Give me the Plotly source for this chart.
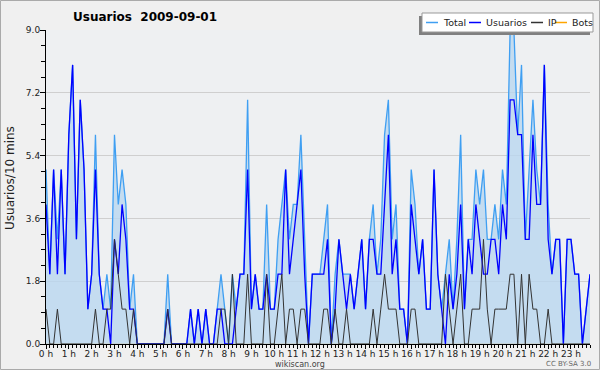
import plotly.graph_objects as go

# ---------------- data (10-minute intervals, 2009-09-01) ----------------
minutes = list(range(0, 1440, 10))

total = [
    5, 2, 5, 3, 5, 2, 6, 8, 3, 7, 5, 1, 2, 6, 2, 1, 2, 1, 6, 4, 5, 4, 1, 2,
    0, 0, 0, 0, 0, 0, 0, 0, 2, 0, 0, 0, 0, 0, 1, 0, 1, 0, 1, 0, 0, 1, 2, 1,
    0, 2, 1, 2, 2, 7, 1, 2, 1, 1, 4, 1, 1, 3, 4, 5, 3, 4, 4, 6, 3, 0, 2, 2,
    2, 3, 4, 0, 2, 3, 2, 2, 2, 1, 2, 3, 1, 3, 4, 2, 3, 6, 7, 3, 4, 1, 1, 0,
    5, 4, 2, 3, 1, 1, 5, 2, 1, 2, 3, 1, 3, 6, 1, 3, 3, 5, 4, 5, 3, 3, 4, 3,
    5, 4, 9, 9, 6, 8, 3, 5, 7, 5, 4, 8, 4, 2, 3, 3, 0, 3, 3, 2, 2, 0, 1, 2,
]

usuarios = [
    4, 2, 5, 2, 5, 2, 6, 8, 3, 7, 5, 1, 2, 5, 2, 1, 1, 0, 3, 2, 4, 3, 1, 1,
    0, 0, 0, 0, 0, 0, 0, 0, 1, 0, 0, 0, 0, 0, 1, 0, 1, 0, 1, 0, 0, 1, 1, 0,
    0, 0, 1, 2, 2, 5, 1, 2, 1, 1, 2, 1, 1, 2, 2, 5, 2, 3, 4, 5, 2, 0, 2, 2,
    2, 2, 3, 0, 1, 3, 2, 1, 2, 1, 2, 3, 1, 3, 3, 2, 2, 4, 6, 2, 3, 1, 1, 0,
    4, 3, 2, 3, 1, 1, 5, 2, 1, 0, 2, 1, 2, 4, 1, 3, 2, 4, 3, 2, 2, 3, 3, 2,
    4, 3, 7, 7, 6, 6, 3, 3, 6, 4, 4, 8, 3, 2, 3, 3, 0, 3, 3, 2, 2, 0, 1, 2,
]

ip = [
    1, 0, 0, 1, 0, 0, 0, 0, 0, 0, 0, 0, 0, 1, 0, 0, 1, 1, 3, 2, 1, 1, 0, 1,
    0, 0, 0, 0, 0, 0, 0, 0, 1, 0, 0, 0, 0, 0, 0, 0, 0, 0, 0, 0, 0, 0, 1, 1,
    0, 2, 0, 0, 0, 2, 0, 0, 0, 0, 2, 0, 0, 1, 2, 0, 1, 1, 0, 1, 1, 0, 0, 0,
    0, 1, 1, 0, 1, 0, 0, 1, 0, 0, 0, 0, 0, 0, 1, 0, 1, 2, 1, 1, 1, 0, 0, 0,
    1, 1, 0, 0, 0, 0, 0, 0, 0, 2, 1, 0, 1, 2, 0, 0, 1, 1, 1, 3, 1, 0, 1, 1,
    1, 1, 2, 2, 0, 2, 0, 2, 1, 1, 0, 0, 1, 0, 0, 0, 0, 0, 0, 0, 0, 0, 0, 0,
]

bots = [
    0, 0, 0, 0, 0, 0, 0, 0, 0, 0, 0, 0, 0, 0, 0, 0, 0, 0, 0, 0, 0, 0, 0, 0,
    0, 0, 0, 0, 0, 0, 0, 0, 0, 0, 0, 0, 0, 0, 0, 0, 0, 0, 0, 0, 0, 0, 0, 0,
    0, 0, 0, 0, 0, 0, 0, 0, 0, 0, 0, 0, 0, 0, 0, 0, 0, 0, 0, 0, 0, 0, 0, 0,
    0, 0, 0, 0, 0, 0, 0, 0, 0, 0, 0, 0, 0, 0, 0, 0, 0, 0, 0, 0, 0, 0, 0, 0,
    0, 0, 0, 0, 0, 0, 0, 0, 0, 0, 0, 0, 0, 0, 0, 0, 0, 0, 0, 0, 0, 0, 0, 0,
    0, 0, 0, 0, 0, 0, 0, 0, 0, 0, 0, 0, 0, 0, 0, 0, 0, 0, 0, 0, 0, 0, 0, 0,
]

hour_ticks = list(range(24))
hour_labels = [f"{h} h" for h in hour_ticks]
y_ticks = [0.0, 1.8, 3.6, 5.4, 7.2, 9.0]

series_names = ["Total", "Usuarios", "IP", "Bots"]
series_colors = ["#3f9ff2", "#0000ff", "#333333", "#ffa500"]

# ---------------- figure ----------------
x_hours = [m / 60 for m in minutes]

W, H = 600, 370
ML, MR, MT, MB = 46, 10, 30, 26
PW, PH = W - ML - MR, H - MT - MB


def px(xp):
    return (xp - ML) / PW


def py(yp):
    return (H - MB - yp) / PH


FONT = "DejaVu Sans, Verdana, sans-serif"

fig = go.Figure()
fig.add_trace(go.Scatter(x=x_hours, y=bots, name="Bots", mode="lines",
                         line=dict(color=series_colors[3], width=1), showlegend=False))
fig.add_trace(go.Scatter(x=x_hours, y=total, name="Total", mode="lines",
                         line=dict(color=series_colors[0], width=1.3),
                         fill="tozeroy", fillcolor="rgba(184,214,240,0.78)",
                         showlegend=False))
fig.add_trace(go.Scatter(x=x_hours, y=usuarios, name="Usuarios", mode="lines",
                         line=dict(color=series_colors[1], width=1.3), showlegend=False))
fig.add_trace(go.Scatter(x=x_hours, y=ip, name="IP", mode="lines",
                         line=dict(color=series_colors[2], width=1), showlegend=False))

fig.update_layout(
    width=W, height=H,
    margin=dict(l=ML, r=MR, t=MT, b=MB, pad=0),
    paper_bgcolor="#f0f0f0",
    plot_bgcolor="#eef0f2",
    font=dict(family=FONT, size=9, color="#222222"),
    showlegend=False,
    xaxis=dict(
        range=[0, x_hours[-1]],
        tickvals=hour_ticks, ticktext=hour_labels,
        ticks="outside", ticklen=4, tickcolor="#000000", tickwidth=1,
        ticklabelstandoff=-3,
        showline=True, linecolor="#000000", linewidth=1,
        showgrid=False, zeroline=False,
        tickfont=dict(size=9, color="#222222"),
        minor=dict(dtick=1 / 6, tick0=0, ticks="outside", ticklen=3,
                   tickcolor="#000000", showgrid=False),
    ),
    yaxis=dict(
        range=[0, 9],
        tickvals=y_ticks, tickformat=".1f",
        ticks="outside", ticklen=5, tickcolor="#000000", tickwidth=1,
        ticklabelstandoff=-2,
        showline=True, linecolor="#000000", linewidth=1,
        showgrid=True, gridcolor="#cfcfcf", gridwidth=1,
        zeroline=False,
        tickfont=dict(size=9, color="#222222"),
        minor=dict(dtick=0.45, tick0=0, ticks="outside", ticklen=4,
                   tickcolor="#000000", showgrid=False),
    ),
)

shapes = []
# outer frame of the image
shapes.append(dict(type="rect", xref="paper", yref="paper",
                   x0=px(0.5), x1=px(599.5), y0=py(369.5), y1=py(0.5),
                   line=dict(color="#aaaaaa", width=1), fillcolor="rgba(0,0,0,0)",
                   layer="above"))
# legend shadow and box
shapes.append(dict(type="rect", xref="paper", yref="paper",
                   x0=px(419), x1=px(590), y0=py(35), y1=py(16),
                   line=dict(width=0), fillcolor="#808080", layer="above"))
shapes.append(dict(type="rect", xref="paper", yref="paper",
                   x0=px(422), x1=px(593), y0=py(32), y1=py(13),
                   line=dict(color="#999999", width=1), fillcolor="#ffffff",
                   layer="above"))

annotations = []
leg_line_x = [(426, 438), (469, 481), (531, 543), (555, 567)]
leg_text_x = [441, 484, 546, 570]
leg_y = 22.5
for name, color, (a, b), tx in zip(series_names, series_colors, leg_line_x, leg_text_x):
    shapes.append(dict(type="line", xref="paper", yref="paper",
                       x0=px(a), x1=px(b), y0=py(leg_y), y1=py(leg_y),
                       line=dict(color=color, width=1.5), layer="above"))
    annotations.append(dict(text=name, xref="paper", yref="paper",
                            x=px(tx), y=py(leg_y), xanchor="left", yanchor="middle",
                            showarrow=False, font=dict(size=9.5, color="#222222")))

annotations.append(dict(text="<b>Usuarios \u00a02009-09-01</b>", xref="paper", yref="paper",
                        x=px(145), y=py(17), xanchor="center", yanchor="middle",
                        showarrow=False, font=dict(size=12, color="#000000")))
annotations.append(dict(text="Usuarios/10 mins", xref="paper", yref="paper",
                        x=px(10), y=py(178), xanchor="center", yanchor="middle",
                        textangle=-90, showarrow=False,
                        font=dict(size=12, color="#222222")))
annotations.append(dict(text="wikiscan.org", xref="paper", yref="paper",
                        x=px(300), y=py(364), xanchor="center", yanchor="middle",
                        showarrow=False, font=dict(size=8, color="#444444")))
annotations.append(dict(text="CC BY-SA 3.0", xref="paper", yref="paper",
                        x=px(593), y=py(364), xanchor="right", yanchor="middle",
                        showarrow=False, font=dict(size=7, color="#666666")))

fig.update_layout(shapes=shapes, annotations=annotations)

fig.write_html("out.html",
               config={"displayModeBar": False},
               post_script="document.body.style.margin='0';document.body.style.padding='0';"
                           "document.documentElement.style.overflow='hidden';")
